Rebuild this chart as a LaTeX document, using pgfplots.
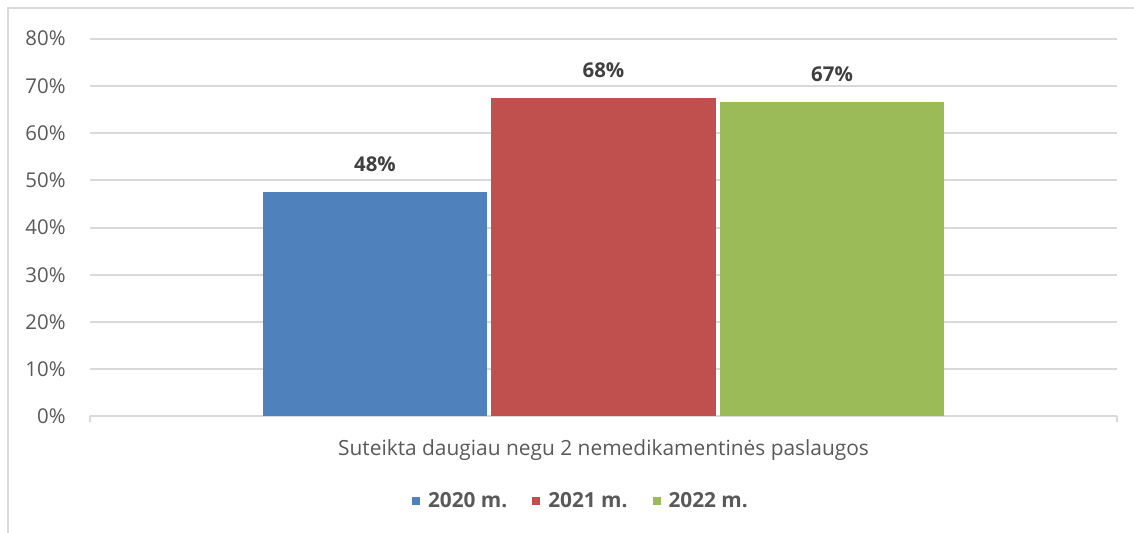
\documentclass[border=0pt]{standalone}
\usepackage{fontspec}
\setmainfont{Open Sans}
\usepackage{pgfplots}
\pgfplotsset{compat=1.18}
\definecolor{c2020}{HTML}{4F81BD}
\definecolor{c2021}{HTML}{C0504D}
\definecolor{c2022}{HTML}{9BBB59}
\definecolor{gridc}{HTML}{D9D9D9}
\definecolor{txt}{HTML}{595959}
\definecolor{lbl}{HTML}{404040}
\begin{document}
\begin{tikzpicture}
\useasboundingbox (0,0) rectangle (567pt,266.5pt);
\draw[gridc, line width=1pt] (4pt,0) -- (4pt,262.5pt) -- (567pt,262.5pt);
\begin{axis}[
  at={(45pt,58.25pt)}, anchor=south west,
  scale only axis, width=513.5pt, height=189pt,
  xmin=-2.247, xmax=2.247, ymin=0, ymax=80,
  ybar, bar width=0.9825, bar shift=0pt,
  axis x line*=bottom, axis y line*=left,
  y axis line style={draw=none},
  x axis line style={gridc, line width=1pt, -},
  ytick={0,10,20,30,40,50,60,70,80},
  yticklabels={0\%,10\%,20\%,30\%,40\%,50\%,60\%,70\%,80\%},
  ymajorgrids, major grid style={gridc, line width=1pt},
  major tick length=0pt,
  yticklabel style={anchor=east, inner sep=0pt, xshift=-12pt, font=\fontsize{10.2pt}{12pt}\selectfont, text=txt},
  xtick={0},
  xticklabels={Suteikta daugiau negu 2 nemedikamentinės paslaugos},
  xticklabel style={anchor=base, inner sep=0pt, yshift=-19.4pt, font=\fontsize{10.45pt}{12pt}\selectfont, text=txt},
  extra x ticks={-2.247,2.247},
  extra x tick labels={},
  extra x tick style={major tick length=3pt, tick align=outside, tick style={gridc, line width=1pt}},
  nodes near coords,
  point meta=explicit symbolic,
  every node near coord/.append style={anchor=base, yshift=10.5pt, font=\fontsize{10.2pt}{12pt}\selectfont\bfseries, text=lbl},
  legend style={at={(0.479,-0.2235)}, anchor=center, draw=none, fill=none,
    legend columns=3, font=\fontsize{10.4pt}{12pt}\selectfont\bfseries, text=txt,
    /tikz/every even column/.append style={column sep=10.5pt}},
  legend image code/.code={\fill[#1] (0pt,-2pt) rectangle (4pt,2pt); \path (6pt,0pt);},
  clip=false,
]
\addplot[fill=c2020, draw=none] coordinates {(-1,47.5) [48\%]};
\addlegendentry{2020 m.}
\addplot[fill=c2021, draw=none] coordinates {(0,67.4) [68\%]};
\addlegendentry{2021 m.}
\addplot[fill=c2022, draw=none] coordinates {(1,66.5) [67\%]};
\addlegendentry{2022 m.}
\end{axis}
\end{tikzpicture}
\end{document}
